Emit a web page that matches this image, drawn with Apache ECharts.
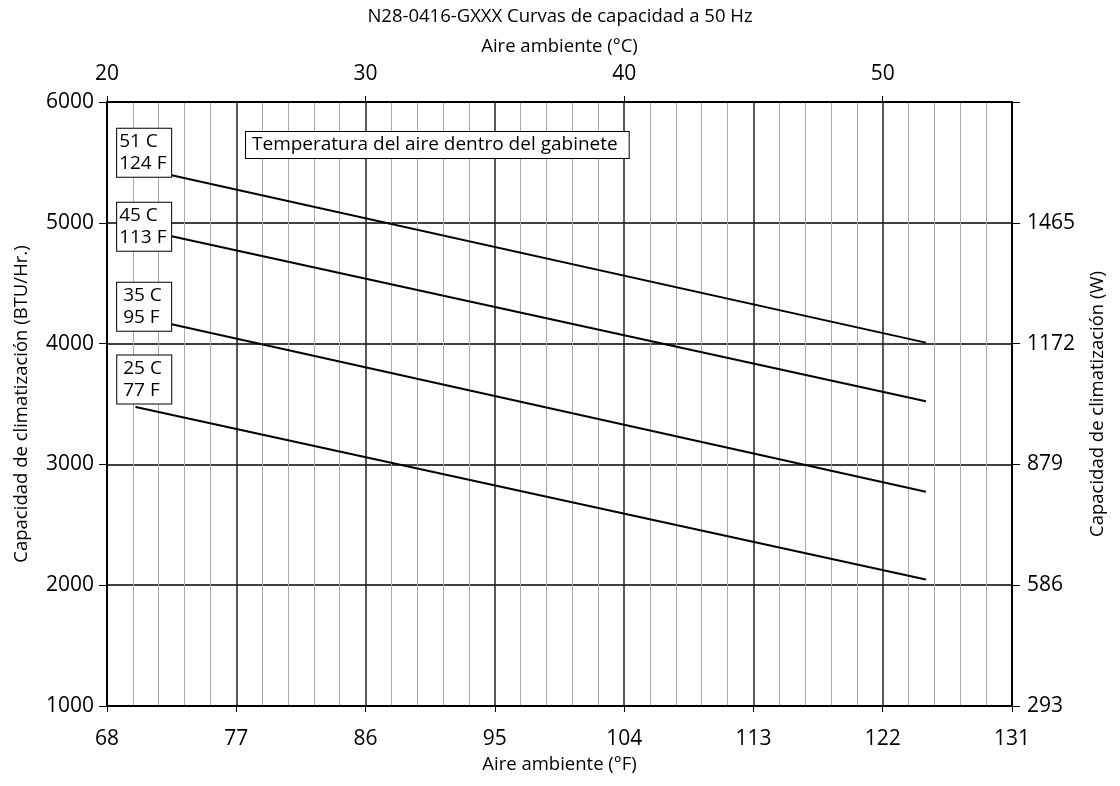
<!DOCTYPE html>
<html><head><meta charset="utf-8">
<script src="https://cdn.jsdelivr.net/npm/echarts@6/dist/echarts.min.js"></script>
<style>html,body{margin:0;padding:0;background:#fff}#c{width:1120px;height:786px}</style>
</head><body><div id="c"></div>
<script>
// ---- data ----
const titleText = 'N28-0416-GXXX Curvas de capacidad a 50 Hz';
const topAxisName = 'Aire ambiente (°C)';
const bottomAxisName = 'Aire ambiente (°F)';
const leftAxisName = 'Capacidad de climatización (BTU/Hr.)';
const rightAxisName = 'Capacidad de climatización (W)';
const noteText = 'Temperatura del aire dentro del gabinete';
const tempC = ['51 C', '45 C', '35 C', '25 C'];
const tempF = ['124 F', '113 F', '95 F', '77 F'];
const startF = [72.5, 72.5, 72.5, 70];
const endF = [125, 125, 125, 125];
const startBTU = [5393, 4889, 4160, 3476];
const endBTU = [4008, 3523, 2774, 2047];
const yTicksBTU = [1000, 2000, 3000, 4000, 5000, 6000];
const yTicksW = [293, 586, 879, 1172, 1465];

// ---- layout / style ----
const FONT = 'Open Sans';
const boxOffset = [[-54, -46], [-54, -33], [-54, -41], [-18, -51]];
const boxPadLeft = [2, 2, 6, 6];
const toC = f => (f - 32) / 1.8;
const toF = c => Math.round(c * 1.8 + 32);

const series = tempC.map((c, i) => ({
  type: 'line',
  xAxisIndex: 0, yAxisIndex: 0,
  symbol: 'circle', symbolSize: 1,
  itemStyle: { color: '#000' },
  lineStyle: { color: '#000', width: 2 },
  silent: true,
  label: { show: false },
  z: 5,
  data: [
    {
      value: [toC(startF[i]), startBTU[i]],
      label: {
        show: true,
        position: boxOffset[i],
        formatter: c + '\n' + tempF[i],
        fontFamily: FONT, fontSize: 19, lineHeight: 22, color: '#000',
        backgroundColor: '#fff', borderColor: '#000', borderWidth: 1,
        padding: [2, 2, 2, boxPadLeft[i]],
        width: 54 - boxPadLeft[i] - 2,
        align: 'left', verticalAlign: 'top'
      }
    },
    [toC(endF[i]), endBTU[i]]
  ]
}));

const chart = echarts.init(document.getElementById('c'), null, { renderer: 'canvas' });
chart.setOption({
  animation: false,
  backgroundColor: '#fff',
  textStyle: { fontFamily: FONT, color: '#000' },
  title: {
    text: titleText, left: 'center', top: 2,
    textStyle: { fontFamily: FONT, fontSize: 18.5, fontWeight: 'normal', color: '#000' }
  },
  grid: { left: 107, right: 108, top: 102, bottom: 80, containLabel: false, outerBoundsMode: 'none' },
  xAxis: [
    {
      type: 'value', position: 'bottom', min: 20, max: 55, interval: 5,
      name: bottomAxisName, nameLocation: 'middle', nameGap: 48,
      nameTextStyle: { fontFamily: FONT, fontSize: 18.5, color: '#000' },
      axisLine: { show: true, onZero: false, lineStyle: { color: '#000', width: 2 } },
      axisTick: { show: true, length: 6, lineStyle: { color: '#000', width: 1 } },
      axisLabel: { formatter: v => String(toF(v)), fontFamily: FONT, fontSize: 21, color: '#000', margin: 23 },
      splitLine: { show: true, lineStyle: { color: '#222', width: 1.5 } },
      minorTick: { show: false, splitNumber: 5 },
      minorSplitLine: { show: true, lineStyle: { color: '#a8a8a8', width: 1 } }
    },
    {
      type: 'value', position: 'top', min: 20, max: 55, interval: 10,
      name: topAxisName, nameLocation: 'middle', nameGap: 46,
      nameTextStyle: { fontFamily: FONT, fontSize: 18.5, color: '#000' },
      axisLine: { show: true, onZero: false, lineStyle: { color: '#000', width: 2 } },
      axisTick: { show: true, length: 6, lineStyle: { color: '#000', width: 1 } },
      axisLabel: { formatter: v => (v % 10 === 0 ? String(v) : ''), showMaxLabel: false,
        fontFamily: FONT, fontSize: 21, color: '#000', margin: 17 },
      splitLine: { show: false }
    }
  ],
  yAxis: [
    {
      type: 'value', position: 'left', min: 1000, max: 6000, interval: 1000,
      name: leftAxisName, nameLocation: 'middle', nameGap: 76,
      nameTextStyle: { fontFamily: FONT, fontSize: 18.5, color: '#000' },
      axisLine: { show: true, onZero: false, lineStyle: { color: '#000', width: 2 } },
      axisTick: { show: true, length: 8, lineStyle: { color: '#000', width: 1 } },
      axisLabel: { formatter: v => String(v), fontFamily: FONT, fontSize: 21, color: '#000', margin: 13 },
      splitLine: { show: true, lineStyle: { color: '#000', width: 1.5 } }
    },
    {
      type: 'value', position: 'right', min: 1000, max: 6000, interval: 1000,
      name: rightAxisName, nameLocation: 'middle', nameGap: 76,
      nameTextStyle: { fontFamily: FONT, fontSize: 18.5, color: '#000' },
      axisLine: { show: true, onZero: false, lineStyle: { color: '#000', width: 2 } },
      axisTick: { show: true, length: 8, lineStyle: { color: '#000', width: 1 } },
      axisLabel: {
        formatter: v => { const i = yTicksBTU.indexOf(v); return (i >= 0 && i < yTicksW.length) ? String(yTicksW[i]) : ''; },
        fontFamily: FONT, fontSize: 21, color: '#000', margin: 15
      },
      splitLine: { show: false }
    }
  ],
  graphic: [
    {
      type: 'text', left: 245, top: 131, z: 100,
      style: {
        text: noteText, fontFamily: FONT, fontSize: 19, fill: '#000',
        backgroundColor: '#fff', borderColor: '#000', borderWidth: 1,
        padding: [1, 11, 1, 6], lineHeight: 24
      }
    }
  ],
  series: series
});
</script>
</body></html>
